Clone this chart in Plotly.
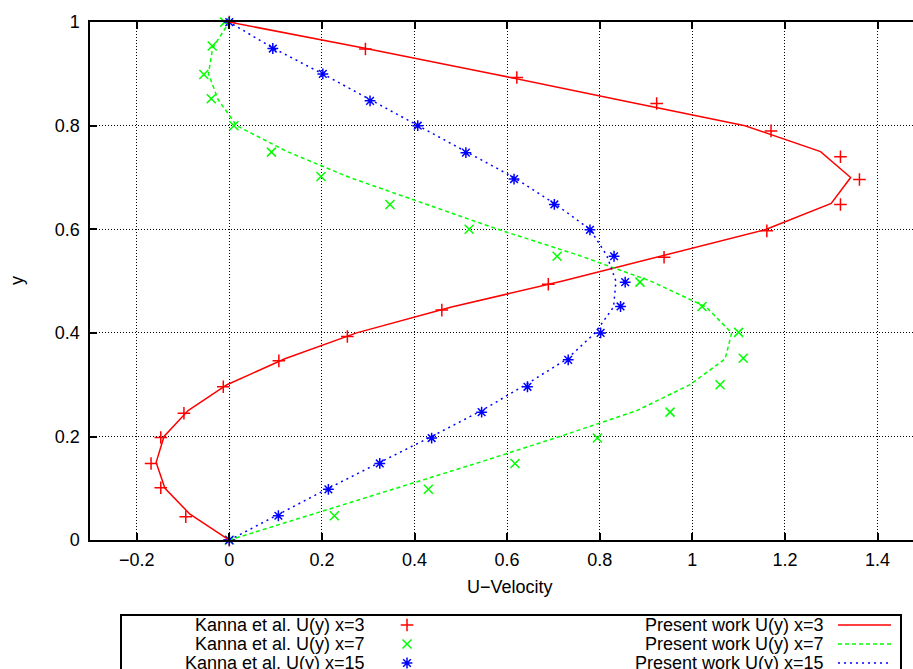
import plotly.graph_objects as go

# ---------------- data ----------------
# Kanna et al. U(y) x=3
kanna3_y = [1.0, 0.948, 0.893, 0.843, 0.790, 0.740, 0.696, 0.648, 0.597, 0.546, 0.494,
            0.444, 0.393, 0.346, 0.296, 0.245, 0.198, 0.148, 0.101, 0.045, 0.0]
kanna3_u = [0.0, 0.294, 0.621, 0.923, 1.170, 1.320, 1.361, 1.320, 1.161, 0.939, 0.689,
            0.459, 0.255, 0.107, -0.013, -0.098, -0.148, -0.169, -0.148, -0.094, 0.0]
# Kanna et al. U(y) x=7
kanna7_y = [1.0, 0.954, 0.899, 0.852, 0.800, 0.749, 0.702, 0.648, 0.600, 0.548, 0.498,
            0.451, 0.401, 0.351, 0.300, 0.247, 0.197, 0.148, 0.098, 0.047, 0.0]
kanna7_u = [-0.01, -0.037, -0.055, -0.039, 0.010, 0.091, 0.198, 0.347, 0.518, 0.708, 0.887,
            1.021, 1.100, 1.110, 1.060, 0.952, 0.795, 0.617, 0.430, 0.227, 0.0]
# Kanna et al. U(y) x=15
kanna15_y = [1.0, 0.949, 0.900, 0.848, 0.800, 0.748, 0.697, 0.648, 0.599, 0.548, 0.498,
             0.451, 0.400, 0.348, 0.296, 0.247, 0.197, 0.148, 0.098, 0.047, 0.0]
kanna15_u = [0.0, 0.094, 0.202, 0.304, 0.407, 0.511, 0.615, 0.702, 0.779, 0.831, 0.855,
             0.845, 0.802, 0.732, 0.644, 0.545, 0.437, 0.325, 0.214, 0.106, 0.0]

# Present work (profiles at y = 0, 0.05, ..., 1)
present_y = [0.0, 0.05, 0.1, 0.15, 0.2, 0.25, 0.3, 0.35, 0.4, 0.45, 0.5,
             0.55, 0.6, 0.65, 0.7, 0.75, 0.8, 0.85, 0.9, 0.95, 1.0]
present3_u = [0.0, -0.085, -0.139, -0.158, -0.141, -0.089, -0.005, 0.12, 0.275, 0.48, 0.72,
              0.94, 1.16, 1.30, 1.342, 1.277, 1.114, 0.84, 0.57, 0.29, 0.0]
present7_u = [0.0, 0.18, 0.36, 0.54, 0.714, 0.88, 0.995, 1.071, 1.085, 1.03, 0.91,
              0.754, 0.58, 0.419, 0.26, 0.125, 0.016, -0.024, -0.045, -0.036, 0.0]
present15_u = [0.0, 0.106, 0.214, 0.325, 0.437, 0.545, 0.64, 0.73, 0.79, 0.83, 0.835,
               0.815, 0.779, 0.702, 0.615, 0.511, 0.407, 0.304, 0.202, 0.094, 0.0]

x_ticks = [-0.2, 0.0, 0.2, 0.4, 0.6, 0.8, 1.0, 1.2, 1.4]
x_tick_labels = ["\u22120.2", "0", "0.2", "0.4", "0.6", "0.8", "1", "1.2", "1.4"]
y_ticks = [0.0, 0.2, 0.4, 0.6, 0.8, 1.0]
y_tick_labels = ["0", "0.2", "0.4", "0.6", "0.8", "1"]

kanna_names = ["Kanna et al. U(y) x=3", "Kanna et al. U(y) x=7", "Kanna et al. U(y) x=15"]
present_names = ["Present work U(y) x=3", "Present work U(y) x=7", "Present work U(y) x=15"]

# ---------------- styling ----------------
W, H = 913, 669
FONT = "Liberation Sans, Arial, Helvetica, sans-serif"
FS = 18
RED, GREEN, BLUE = "#ff0000", "#00ff00", "#0000ff"

# plot area in pixels
PX_L, PX_T, PX_B = 90.4, 22.1, 540.1
PX_PER_U = 463.0
X_MIN = -0.3
X_MAX = X_MIN + (W - PX_L) / PX_PER_U

marker_styles = [
    dict(symbol="cross-thin", size=9, color=RED, line=dict(color=RED, width=1.5)),
    dict(symbol="x-thin", size=9, color=GREEN, line=dict(color=GREEN, width=1.5)),
    dict(symbol="asterisk", size=9, color=BLUE, line=dict(color=BLUE, width=1.5)),
]
line_styles = [
    dict(color=RED, width=1.5, dash="solid"),
    dict(color=GREEN, width=1.5, dash="4px,3px"),
    dict(color=BLUE, width=1.5, dash="2px,4px"),
]

fig = go.Figure()

for xs, ys, ms, nm in zip([kanna3_u, kanna7_u, kanna15_u],
                          [kanna3_y, kanna7_y, kanna15_y],
                          marker_styles, kanna_names):
    fig.add_trace(go.Scatter(x=xs, y=ys, mode="markers", marker=ms, name=nm,
                             cliponaxis=False, xaxis="x", yaxis="y"))

for xs, ls, nm in zip([present3_u, present7_u, present15_u], line_styles, present_names):
    fig.add_trace(go.Scatter(x=xs, y=present_y, mode="lines", line=ls, name=nm,
                             cliponaxis=False, xaxis="x", yaxis="y"))

# ---------------- legend (pixel overlay axes) ----------------
row_y = [625, 644, 663]
KANNA_TEXT_R, KANNA_MARK_X = 367, 407
PRES_TEXT_R, PRES_LINE = 826, (838, 891)

annotations = []
for i in range(3):
    annotations.append(dict(x=KANNA_TEXT_R, y=row_y[i], xref="x2", yref="y2",
                            text=kanna_names[i], showarrow=False, xanchor="right",
                            yanchor="middle", font=dict(family=FONT, size=FS, color="black")))
    annotations.append(dict(x=PRES_TEXT_R, y=row_y[i], xref="x2", yref="y2",
                            text=present_names[i], showarrow=False, xanchor="right",
                            yanchor="middle", font=dict(family=FONT, size=FS, color="black")))
    fig.add_trace(go.Scatter(x=[KANNA_MARK_X], y=[row_y[i]], mode="markers",
                             marker=marker_styles[i], xaxis="x2", yaxis="y2",
                             hoverinfo="skip", cliponaxis=False))
    fig.add_trace(go.Scatter(x=list(PRES_LINE), y=[row_y[i], row_y[i]], mode="lines",
                             line=line_styles[i], xaxis="x2", yaxis="y2",
                             hoverinfo="skip", cliponaxis=False))

# axis titles
annotations.append(dict(x=510, y=587, xref="x2", yref="y2", text="U\u2212Velocity",
                        showarrow=False, xanchor="center", yanchor="middle",
                        font=dict(family=FONT, size=FS, color="black")))
annotations.append(dict(x=17, y=281, xref="x2", yref="y2", text="y", textangle=-90,
                        showarrow=False, xanchor="center", yanchor="middle",
                        font=dict(family=FONT, size=FS, color="black")))

shapes = [dict(type="rect", xref="x2", yref="y2", x0=121, x1=901, y0=615, y1=700,
               line=dict(color="black", width=2), fillcolor="rgba(0,0,0,0)", layer="above")]

axis_common = dict(
    showline=True, linewidth=2, linecolor="black",
    ticks="inside", ticklen=7, tickwidth=2, tickcolor="black",
    showgrid=True, gridcolor="#000000", gridwidth=1, griddash="1px,2px",
    zeroline=False, automargin=False,
    tickfont=dict(family=FONT, size=FS, color="black"),
)

fig.update_layout(
    width=W, height=H,
    margin=dict(l=0, r=0, t=0, b=0, pad=0, autoexpand=False),
    paper_bgcolor="white", plot_bgcolor="rgba(0,0,0,0)",
    showlegend=False,
    xaxis=dict(domain=[PX_L / W, 1.0], range=[X_MIN, X_MAX], anchor="y",
               tickmode="array", tickvals=x_ticks, ticktext=x_tick_labels,
               mirror="ticks", ticklabelstandoff=2, **axis_common),
    yaxis=dict(domain=[(H - PX_B) / H, (H - PX_T) / H], range=[0, 1], anchor="x",
               tickmode="array", tickvals=y_ticks, ticktext=y_tick_labels,
               mirror=False, ticklabelstandoff=5, **axis_common),
    xaxis2=dict(domain=[0, 1], range=[0, W], visible=False, anchor="y2", fixedrange=True),
    yaxis2=dict(domain=[0, 1], range=[H, 0], visible=False, anchor="x2", fixedrange=True),
    annotations=annotations,
    shapes=shapes,
)

fig.write_html("out.html")
